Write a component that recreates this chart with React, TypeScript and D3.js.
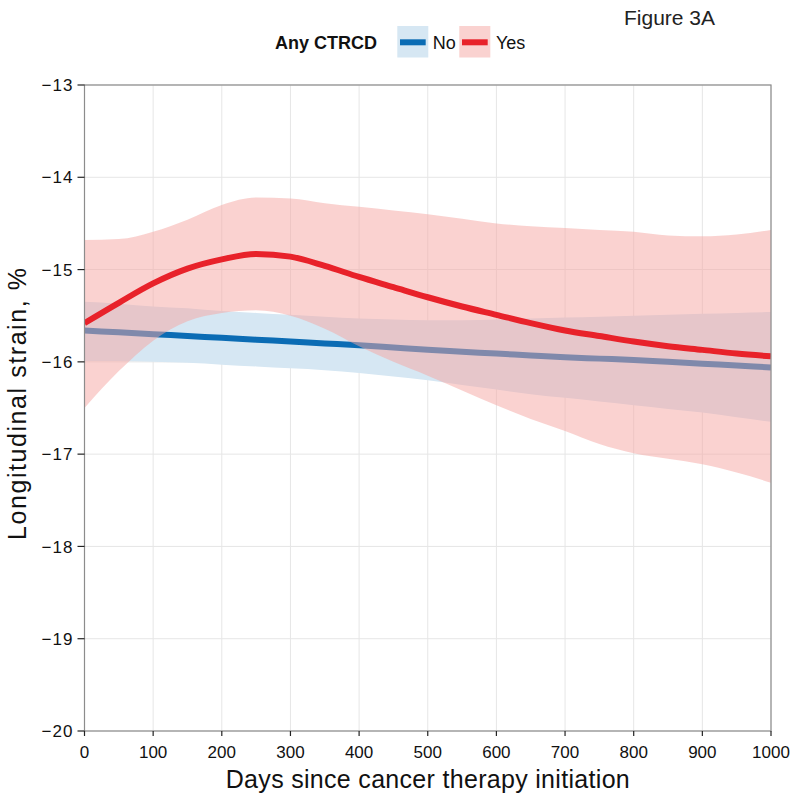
import React from "react";
import * as d3 from "d3";

const days = [0, 50, 100, 150, 200, 250, 300, 350, 400, 450, 500, 550, 600, 650, 700, 750, 800, 850, 900, 950, 1000];

const yesFit = [-15.58, -15.36, -15.15, -14.99, -14.89, -14.83, -14.86, -14.96, -15.08, -15.19, -15.30, -15.40, -15.49, -15.58, -15.66, -15.72, -15.78, -15.83, -15.87, -15.91, -15.94];
const yesUpper = [-14.68, -14.67, -14.59, -14.46, -14.30, -14.22, -14.23, -14.28, -14.32, -14.36, -14.40, -14.45, -14.50, -14.53, -14.55, -14.57, -14.59, -14.63, -14.64, -14.62, -14.57];
const yesLower = [-16.50, -16.10, -15.77, -15.56, -15.47, -15.44, -15.50, -15.64, -15.83, -16.00, -16.15, -16.31, -16.47, -16.62, -16.75, -16.89, -16.99, -17.05, -17.11, -17.20, -17.31];

const noFit = [-15.66, -15.68, -15.70, -15.72, -15.74, -15.76, -15.78, -15.80, -15.82, -15.845, -15.87, -15.89, -15.91, -15.93, -15.95, -15.965, -15.98, -16.00, -16.02, -16.04, -16.06];
const noUpper = [-15.35, -15.37, -15.40, -15.42, -15.45, -15.47, -15.49, -15.51, -15.53, -15.54, -15.55, -15.55, -15.54, -15.53, -15.52, -15.51, -15.50, -15.49, -15.48, -15.47, -15.46];
const noLower = [-15.99, -15.99, -16.00, -16.01, -16.03, -16.05, -16.07, -16.09, -16.12, -16.16, -16.20, -16.25, -16.30, -16.35, -16.39, -16.43, -16.47, -16.51, -16.55, -16.60, -16.65];

const xTicks = [0, 100, 200, 300, 400, 500, 600, 700, 800, 900, 1000];
const yTicks = [-20, -19, -18, -17, -16, -15, -14, -13];

const legendTitle = "Any CTRCD";
const legendLabels = ["No", "Yes"];
const figureLabel = "Figure 3A";
const xTitle = "Days since cancer therapy initiation";
const yTitle = "Longitudinal strain, %";

const FONT = "'Liberation Sans', Arial, Helvetica, sans-serif";
const BLUE = "#0b6cb4";
const RED = "#e8222a";
const BLUE_FILL = "#d6e7f3";
const RED_FILL = "#f5a5a1";

export default function App() {
  const W = 800, H = 804;
  const left = 84.5, right = 771, top = 85, bottom = 731;
  const x = d3.scaleLinear().domain([0, 1000]).range([left, right]);
  const y = d3.scaleLinear().domain([-20, -13]).range([bottom, top]);

  const idx = days.map((_, i) => i);
  const area = (lo: number[], hi: number[]) =>
    d3.area<number>().x((i) => x(days[i])).y0((i) => y(lo[i])).y1((i) => y(hi[i])).curve(d3.curveMonotoneX)(idx) || "";
  const line = (v: number[]) =>
    d3.line<number>().x((i) => x(days[i])).y((i) => y(v[i])).curve(d3.curveMonotoneX)(idx) || "";

  return (
    <svg width={W} height={H} style={{ position: "absolute", left: 0, top: 0 }} fontFamily={FONT}>
      <rect x={0} y={0} width={W} height={H} fill="#fff" />
      <defs>
        <clipPath id="plotclip">
          <rect x={left} y={top} width={right - left} height={bottom - top} />
        </clipPath>
      </defs>
      {/* grid */}
      {xTicks.map((t) => (
        <line key={"gx" + t} x1={x(t)} x2={x(t)} y1={top} y2={bottom} stroke="#e6e6e6" strokeWidth={1} />
      ))}
      {yTicks.map((t) => (
        <line key={"gy" + t} x1={left} x2={right} y1={y(t)} y2={y(t)} stroke="#e6e6e6" strokeWidth={1} />
      ))}
      <g clipPath="url(#plotclip)">
        <path d={area(noLower, noUpper)} fill={BLUE_FILL} />
        <path d={line(noFit)} fill="none" stroke={BLUE} strokeWidth={6} />
        <path d={area(yesLower, yesUpper)} fill={RED_FILL} fillOpacity={0.5} />
        <path d={line(yesFit)} fill="none" stroke={RED} strokeWidth={6} />
      </g>
      {/* frame */}
      <rect x={left} y={top} width={right - left} height={bottom - top} fill="none" stroke="#8c8c8c" strokeWidth={1.2} />
      {/* y axis ticks */}
      {yTicks.map((t) => (
        <g key={"yt" + t}>
          <line x1={left - 7} x2={left} y1={y(t)} y2={y(t)} stroke="#222" strokeWidth={1.2} />
          <text x={left - 12} y={y(t)} dy="0.36em" textAnchor="end" fontSize={17} fill="#111" textLength={31} lengthAdjust="spacing">
            {"\u2212" + Math.abs(t)}
          </text>
        </g>
      ))}
      {/* x axis ticks */}
      {xTicks.map((t) => (
        <g key={"xt" + t}>
          <line x1={x(t)} x2={x(t)} y1={bottom} y2={bottom + 5} stroke="#222" strokeWidth={1.2} />
          <text x={x(t)} y={758} textAnchor="middle" fontSize={17} fill="#111">
            {t}
          </text>
        </g>
      ))}
      {/* titles */}
      <text x={(left + right) / 2} y={788} textAnchor="middle" fontSize={25} fill="#111" textLength={404} lengthAdjust="spacing">
        {xTitle}
      </text>
      <text transform={`translate(25.5,404) rotate(-90)`} textAnchor="middle" fontSize={25} fill="#111" textLength={272} lengthAdjust="spacing">
        {yTitle}
      </text>
      <text x={624} y={25} fontSize={21} fill="#222">
        {figureLabel}
      </text>
      {/* legend */}
      <text x={275} y={49} fontSize={18} fontWeight="bold" fill="#111">
        {legendTitle}
      </text>
      <rect x={397.3} y={26} width={31} height={31.5} fill={BLUE_FILL} />
      <line x1={400} x2={425.7} y1={42.3} y2={42.3} stroke={BLUE} strokeWidth={6} />
      <text x={432.7} y={49} fontSize={18} fill="#111">
        {legendLabels[0]}
      </text>
      <rect x={459.3} y={26} width={31} height={31.5} fill={RED_FILL} fillOpacity={0.5} />
      <line x1={462} x2={487.7} y1={42.3} y2={42.3} stroke={RED} strokeWidth={6} />
      <text x={496} y={49} fontSize={18} fill="#111">
        {legendLabels[1]}
      </text>
    </svg>
  );
}
